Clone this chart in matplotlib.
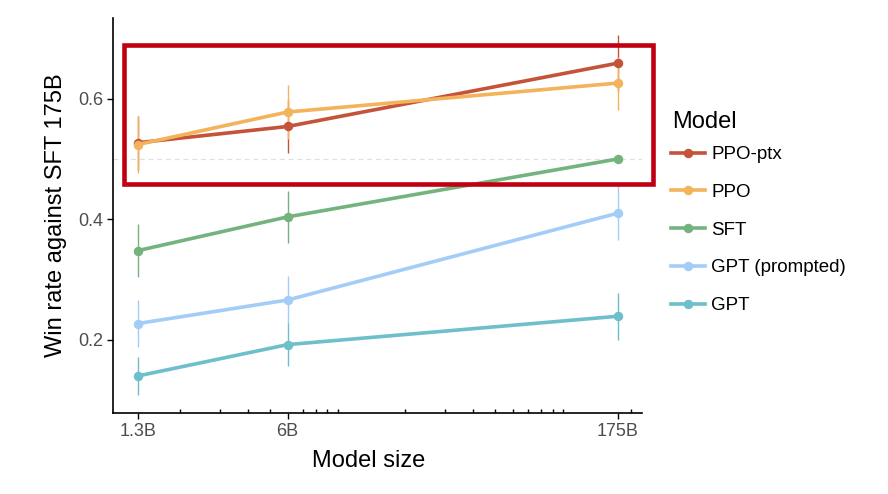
import matplotlib
matplotlib.use("Agg")
import matplotlib.pyplot as plt
import matplotlib.patches as patches
from matplotlib.ticker import FixedLocator, LogLocator, NullFormatter

plt.rcParams['font.family'] = ['Liberation Sans', 'DejaVu Sans']

# model sizes in billions of parameters
SIZES = [1.3, 6, 175]
SIZE_LABELS = ["1.3B", "6B", "175B"]

MODELS = ["PPO-ptx", "PPO", "SFT", "GPT (prompted)", "GPT"]
WIN_RATE = {
    "PPO-ptx": [0.527, 0.554, 0.659],
    "PPO": [0.524, 0.578, 0.626],
    "SFT": [0.348, 0.404, 0.500],
    "GPT (prompted)": [0.227, 0.266, 0.410],
    "GPT": [0.140, 0.192, 0.239],
}
ERR = {
    "PPO-ptx": [0.045, 0.044, 0.046],
    "PPO": [0.048, 0.044, 0.044],
    "SFT": [0.044, 0.043, 0.0],
    "GPT (prompted)": [0.039, 0.040, 0.045],
    "GPT": [0.031, 0.036, 0.039],
}
COLORS = {
    "PPO-ptx": "#c4533a",
    "PPO": "#f2b35b",
    "SFT": "#74b37e",
    "GPT (prompted)": "#a3cdf6",
    "GPT": "#6cbfcb",
}

W, H = 888, 494
fig = plt.figure(figsize=(W / 100, H / 100), dpi=100)
ax = fig.add_axes([113.3 / W, 1 - 413.3 / H, (641.7 - 113.3) / W, (413.3 - 18) / H])

ax.axhline(0.5, color="#e0e0e0", lw=0.9, ls=(0, (4, 3)), zorder=1)

for m in MODELS:
    c = COLORS[m]
    ax.errorbar(SIZES, WIN_RATE[m], yerr=ERR[m], fmt="none", ecolor=c,
                elinewidth=1.0, capsize=0, zorder=2)
    ax.plot(SIZES, WIN_RATE[m], color=c, lw=2.6, marker="o", ms=5.8,
            label=m, zorder=3)

ax.set_xscale("log")
ax.set_xlim(1.01, 224)
ax.set_ylim(0.078, 0.734)
ax.xaxis.set_major_locator(FixedLocator(SIZES))
ax.set_xticklabels(SIZE_LABELS)
ax.xaxis.set_minor_locator(LogLocator(base=10, subs=range(1, 10)))
ax.xaxis.set_minor_formatter(NullFormatter())
ax.set_yticks([0.2, 0.4, 0.6])
ax.set_yticklabels(["0.2", "0.4", "0.6"])

for s in ["top", "right"]:
    ax.spines[s].set_visible(False)
for s in ["left", "bottom"]:
    ax.spines[s].set_linewidth(1.2)
ax.tick_params(which="major", direction="out", length=4.3, width=1.0,
               labelsize=13, labelcolor="#4d4d4d", pad=3)
ax.tick_params(which="minor", direction="in", length=3, width=1.0)

ax.set_xlabel("Model size", fontsize=17, labelpad=7, x=0.484)
ax.set_ylabel("Win rate against SFT 175B", fontsize=17, labelpad=8)

# legend: title placed separately so the gap under it can differ from row spacing
fig.text(672 / W, 1 - 121.7 / H, "Model", fontsize=17, ha="left", va="center")
leg = fig.legend(loc="upper left", bbox_to_anchor=(671 / W, 1 - 146 / H),
                 frameon=False, fontsize=13.5, handlelength=1.8,
                 handletextpad=0.35, labelspacing=1.1, borderpad=0,
                 borderaxespad=0)

# highlight box
rect = patches.Rectangle((124 / W, 1 - 184 / H), (653 - 124) / W, (184 - 45) / H,
                         transform=fig.transFigure, fill=False,
                         edgecolor="#c00010", lw=3.3, clip_on=False, zorder=10)
fig.patches.append(rect)

fig.savefig("out.png", dpi=100)
